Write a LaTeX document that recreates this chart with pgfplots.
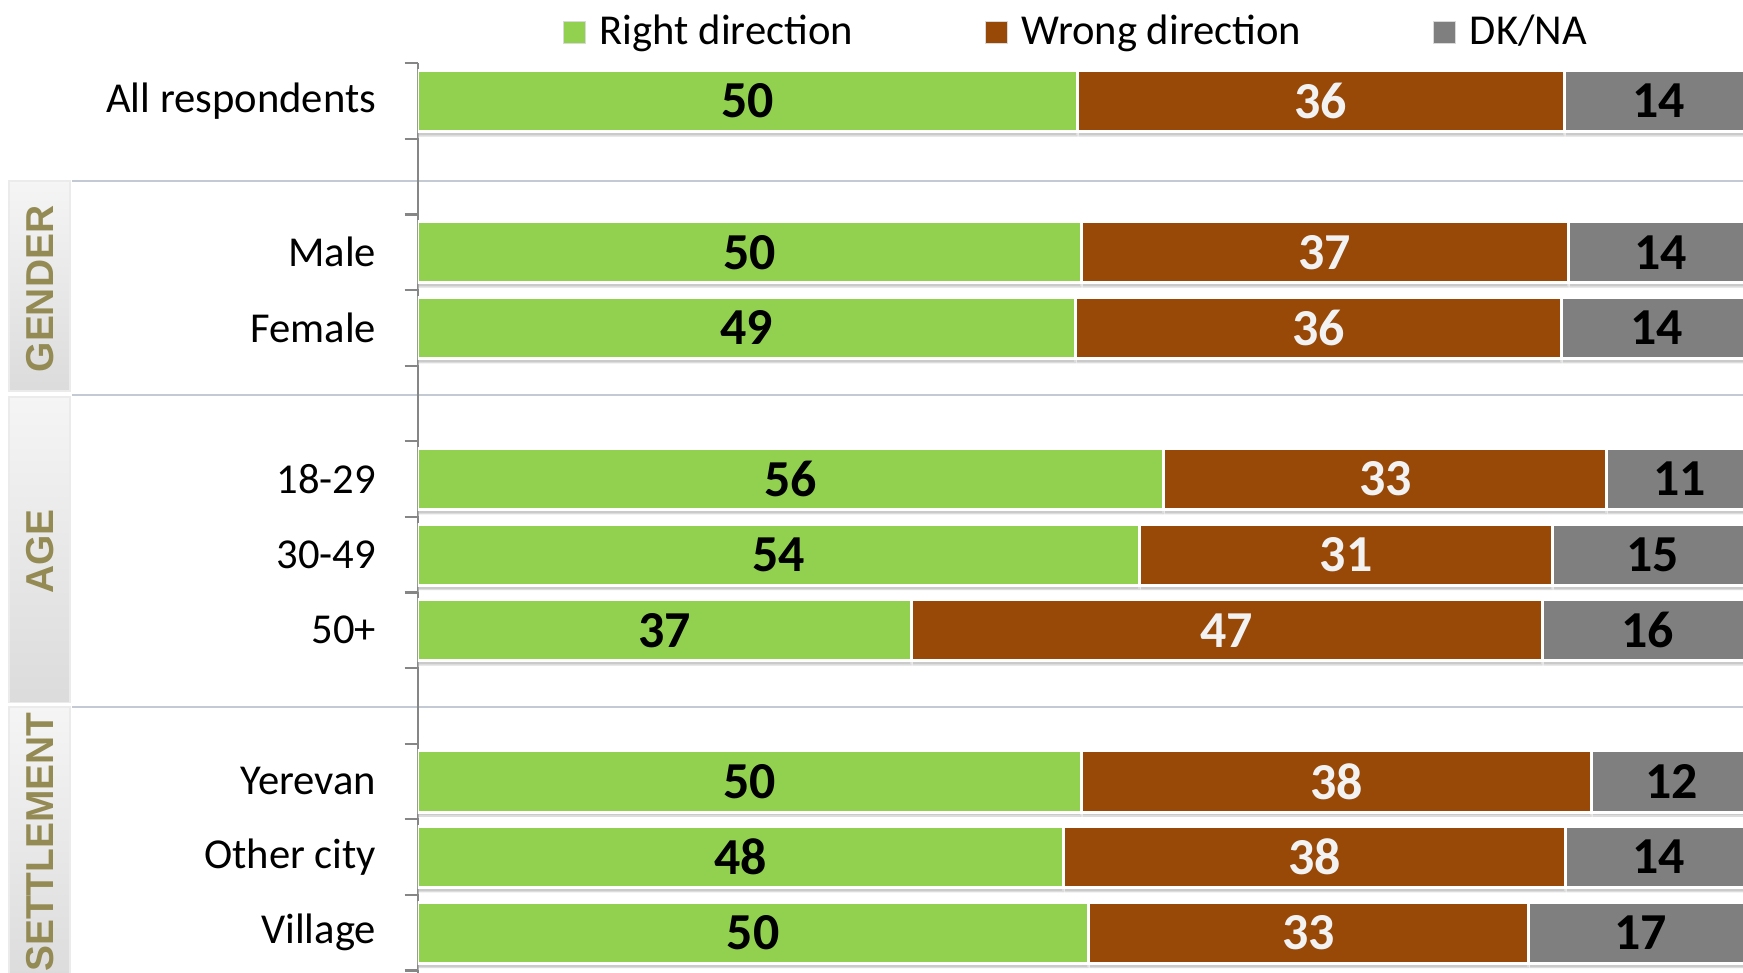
\documentclass[border=0pt]{standalone}
\usepackage{pgfplots}
\pgfplotsset{compat=1.18}
\usepackage{pgfplotstable}
\usepackage{fontspec}
\setmainfont{Carlito}
\newfontfamily\arialfont{Liberation Sans}
\usetikzlibrary{shadows}
\definecolor{cgreen}{HTML}{92D050}
\definecolor{cbrown}{HTML}{984807}
\definecolor{cgray}{HTML}{7F7F7F}
\definecolor{cgroup}{HTML}{948A54}
\definecolor{csep}{HTML}{C3CAD3}
\definecolor{caxis}{HTML}{868686}

\pgfplotstableread{
y   r     w     d     lr lw ld
0   49.4  36.5  14.1  50 36 14
-2  49.7  36.5  13.8  50 37 14
-3  49.3  36.4  14.3  49 36 14
-5  55.9  33.2  10.9  56 33 11
-6  54.1  30.9  15.0  54 31 15
-7  37.0  47.25 15.75 37 47 16
-9  49.7  38.25 12.05 50 38 12
-10 48.4  37.6  14.0  48 38 14
-11 50.25 33.0  16.75 50 33 17
}\datatable

\pgfplotsset{
  mybase/.style={
    scale only axis, width=357.6pt, height=246.84pt,
    xmin=0, xmax=99.3, ymin=-11.6, ymax=0.5,
    at={(112.8pt,-1.44pt)}, anchor=south west,
  },
  barsty/.style={fill=#1, draw=white, line width=0.8pt, forget plot,
    drop shadow={shadow xshift=0pt, shadow yshift=-1.3pt, opacity=0.35, fill=black!60}},
  lblsty/.style={draw=none, mark=none, nodes near coords, point meta=explicit symbolic,
    every node near coord/.append style={anchor=center, inner sep=0pt, text=#1,
      font=\bfseries\fontsize{14}{14}\selectfont}},
}

\begin{document}
\begin{tikzpicture}
\useasboundingbox (0,0) rectangle (470.4pt,262.5pt);
% group boxes
\shade[top color=black!4, middle color=black!22, bottom color=black!14, draw=black!8, line width=0.5pt]
  (2.4pt,213.6pt) rectangle (18.9pt,156.9pt);
\shade[top color=black!4, middle color=black!22, bottom color=black!14, draw=black!8, line width=0.5pt]
  (2.4pt,155.4pt) rectangle (18.9pt,72.9pt);
\shade[top color=black!4, middle color=black!22, bottom color=black!14, draw=black!8, line width=0.5pt]
  (2.4pt,71.7pt) rectangle (18.9pt,-3pt);
\node[rotate=90, text=cgroup, font=\arialfont\bfseries\fontsize{10.5}{10.5}\selectfont] at (10.8pt,184.5pt) {GENDER};
\node[rotate=90, text=cgroup, font=\arialfont\bfseries\fontsize{10.5}{10.5}\selectfont] at (10.8pt,113.7pt) {AGE};
\node[rotate=90, text=cgroup, font=\arialfont\bfseries\fontsize{10.5}{10.5}\selectfont] at (10.8pt,35.25pt) {SETTLEMENT};
% separators
\draw[csep, line width=0.6pt] (19.5pt,213.6pt) -- (470.4pt,213.6pt);
\draw[csep, line width=0.6pt] (19.5pt,156pt) -- (470.4pt,156pt);
\draw[csep, line width=0.6pt] (19.5pt,71.7pt) -- (470.4pt,71.7pt);

\begin{axis}[mybase,
  xbar stacked, bar width=16.5pt,
  axis y line*=left, axis x line=none,
  y axis line style={draw=caxis, line width=0.6pt},
  ytick={0,-2,-3,-5,-6,-7,-9,-10,-11},
  yticklabels={All respondents, Male, Female, 18-29, 30-49, 50+, Yerevan, Other city, Village},
  major tick length=0pt,
  minor ytick={-11.5,-10.5,...,0.5},
  minor tick length=3.6pt, tick align=outside,
  minor tick style={draw=caxis, line width=0.6pt},
  yticklabel style={font=\fontsize{11.5}{12}\selectfont, anchor=east, inner sep=0pt, xshift=-11.1pt},
  legend columns=3,
  legend cell align=left,
  legend style={draw=none, fill=none, at={(0.109,1.0340)}, anchor=west, inner sep=0pt,
    font=\fontsize{11.5}{12}\selectfont,
    nodes={inner sep=0pt},
    /tikz/every odd column/.append style={column sep=3.6pt},
    /tikz/every even column/.append style={column sep=35.6pt}},
  legend image code/.code={\fill[#1, draw=white!85!black, line width=0.3pt] (0pt,-3pt) rectangle (6pt,3pt);},
]
\addplot[barsty=cgreen] table[x=r, y=y]{\datatable};
\addplot[barsty=cbrown] table[x=w, y=y]{\datatable};
\addplot[barsty=cgray] table[x=d, y=y]{\datatable};
\addlegendimage{fill=cgreen}
\addlegendentry{Right direction}
\addlegendimage{fill=cbrown}
\addlegendentry{Wrong direction}
\addlegendimage{fill=cgray}
\addlegendentry{DK/NA}
\end{axis}

\begin{axis}[mybase, hide axis]
\addplot[lblsty=black] table[x expr=\thisrow{r}/2, y=y, meta=lr]{\datatable};
\addplot[lblsty=white!95!black] table[x expr=\thisrow{r}+\thisrow{w}/2, y=y, meta=lw]{\datatable};
\addplot[lblsty=black] table[x expr=\thisrow{r}+\thisrow{w}+\thisrow{d}/2, y=y, meta=ld]{\datatable};
\end{axis}
\end{tikzpicture}
\end{document}
